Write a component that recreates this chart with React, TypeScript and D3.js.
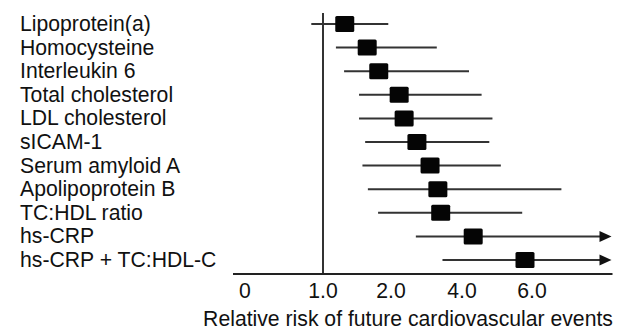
import React, { useRef, useEffect } from "react";
import * as d3 from "d3";

// markers, top to bottom
const markers = [
  "Lipoprotein(a)",
  "Homocysteine",
  "Interleukin 6",
  "Total cholesterol",
  "LDL cholesterol",
  "sICAM-1",
  "Serum amyloid A",
  "Apolipoprotein B",
  "TC:HDL ratio",
  "hs-CRP",
  "hs-CRP + TC:HDL-C",
];
// relative risk point estimates
const riskPoint = [1.32, 1.65, 1.82, 2.23, 2.37, 2.73, 3.1, 3.32, 3.4, 4.32, 5.8];
// 95% CI, null = runs off the axis (arrow)
const ciLow = [0.85, 1.19, 1.31, 1.53, 1.53, 1.62, 1.58, 1.66, 1.81, 2.7, 3.45];
const ciHigh: (number | null)[] = [1.96, 3.29, 4.2, 4.56, 4.87, 4.78, 5.11, 6.84, 5.72, null, null];
// tick labels on the (hand spaced) risk axis
const tickValues = [0, 1, 2, 4, 6];
const tickLabels = ["0", "1.0", "2.0", "4.0", "6.0"];
const axisMax = 8.3;

function App() {
  const svgRef = useRef<SVGSVGElement>(null);

  useEffect(() => {
    const width = 620;
    const height = 332;
    const font = "'Liberation Sans', Arial, sans-serif";
    const fs = 21.2;

    // piecewise scale: the original figure spaces 1,2,4,6 nearly evenly
    const x = d3.scaleLinear().domain(tickValues).range([245, 323, 391, 462, 532]);
    const y = d3.scalePoint<string>().domain(markers).range([24, 260]);
    const axisY = 274;

    const svg = d3.select(svgRef.current)
      .attr("width", width)
      .attr("height", height)
      .style("font-family", font);
    svg.selectAll("*").remove();

    // labels on the left
    svg.append("g")
      .selectAll("text")
      .data(markers)
      .join("text")
      .attr("x", 20)
      .attr("y", d => (y(d) as number) + 7)
      .attr("font-size", fs)
      .attr("fill", "#111")
      .text(d => d);

    // reference line at RR = 1
    svg.append("line")
      .attr("x1", x(1)).attr("x2", x(1))
      .attr("y1", 13).attr("y2", axisY)
      .attr("stroke", "#333")
      .attr("stroke-width", 2);

    // x axis line
    svg.append("line")
      .attr("x1", x(0) - 12).attr("x2", x(axisMax))
      .attr("y1", axisY).attr("y2", axisY)
      .attr("stroke", "#222")
      .attr("stroke-width", 2);

    svg.append("g")
      .selectAll("text")
      .data(tickValues)
      .join("text")
      .attr("x", d => x(d))
      .attr("y", 298)
      .attr("text-anchor", "middle")
      .attr("font-size", fs)
      .attr("fill", "#111")
      .text((d, i) => tickLabels[i]);

    svg.append("text")
      .attr("x", 408)
      .attr("y", 326)
      .attr("text-anchor", "middle")
      .attr("font-size", fs)
      .attr("fill", "#111")
      .text("Relative risk of future cardiovascular events");

    // confidence intervals
    const rows = markers.map((m, i) => ({ m, p: riskPoint[i], lo: ciLow[i], hi: ciHigh[i] }));
    const g = svg.append("g");
    g.selectAll("line.ci")
      .data(rows)
      .join("line")
      .attr("class", "ci")
      .attr("x1", d => x(d.lo))
      .attr("x2", d => (d.hi == null ? x(axisMax) - 8 : x(d.hi)))
      .attr("y1", d => y(d.m) as number)
      .attr("y2", d => y(d.m) as number)
      .attr("stroke", "#333")
      .attr("stroke-width", 2);

    // arrow heads where the interval leaves the axis
    g.selectAll("path.arrow")
      .data(rows.filter(d => d.hi == null))
      .join("path")
      .attr("class", "arrow")
      .attr("d", d => {
        const cy = y(d.m) as number;
        const tip = x(axisMax) - 1;
        return `M${tip},${cy}L${tip - 12},${cy - 5.5}L${tip - 12},${cy + 5.5}Z`;
      })
      .attr("fill", "#111");

    // point estimate boxes
    g.selectAll("rect")
      .data(rows)
      .join("rect")
      .attr("x", d => x(d.p) - 9.5)
      .attr("y", d => (y(d.m) as number) - 8)
      .attr("width", 19)
      .attr("height", 16)
      .attr("rx", 1.5)
      .attr("fill", "#050505");
  }, []);

  return <svg ref={svgRef} style={{ position: "absolute", left: 0, top: 0 }}></svg>;
}

export default App;
